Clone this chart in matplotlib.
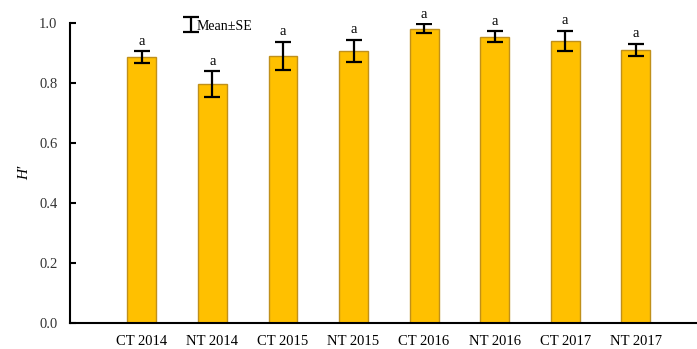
import matplotlib
matplotlib.use("Agg")
import matplotlib.pyplot as plt
import numpy as np

categories = ["CT 2014", "NT 2014", "CT 2015", "NT 2015", "CT 2016", "NT 2016", "CT 2017", "NT 2017"]
means = [0.887, 0.797, 0.891, 0.908, 0.981, 0.954, 0.941, 0.911]
se = [0.019, 0.042, 0.046, 0.037, 0.015, 0.018, 0.034, 0.020]
letters = ["a"] * 8
yticks = [0.0, 0.2, 0.4, 0.6, 0.8, 1.0]

plt.rcParams['font.family'] = ['Liberation Serif', 'DejaVu Serif']

fig = plt.figure(figsize=(6.97, 3.49), dpi=100)
ax = fig.add_axes([0.1004, 0.0745, 0.8996, 0.8595])

x = np.arange(len(categories))
ax.bar(x, means, width=0.41, color="#FFC000", edgecolor="#C0901A", linewidth=1.0, zorder=2)
ax.errorbar(x, means, yerr=se, fmt="none", ecolor="black", elinewidth=1.6, capsize=6, capthick=1.6, zorder=3)
for xi, m, s, l in zip(x, means, se, letters):
    ax.text(xi, m + s + 0.012, l, ha="center", va="bottom", fontsize=10.5)

ax.set_xlim(-1.02, 7.87)
ax.set_ylim(0, 1.0)
ax.set_xticks(x)
ax.set_xticklabels(categories, fontsize=10.5)
ax.set_yticks(yticks)
ax.set_yticklabels([f"{v:.1f}" for v in yticks], fontsize=10.5, color="#333333")
ax.tick_params(axis="both", direction="in", length=4, width=1.5)
ax.tick_params(axis="y", pad=9)
ax.tick_params(axis="x", pad=9)
for s in ["top", "right"]:
    ax.spines[s].set_visible(False)
for s in ["left", "bottom"]:
    ax.spines[s].set_linewidth(1.5)

ax.set_ylabel("H′", fontstyle="italic", fontsize=11)
ax.yaxis.set_label_coords(-0.062, 0.5)

# legend-like marker
ax.errorbar([0.69], [0.995], yerr=[0.024], fmt="none", ecolor="black", elinewidth=1.6, capsize=6, capthick=1.6, clip_on=False)
ax.text(0.78, 0.99, "Mean±SE", ha="left", va="center", fontsize=10)

fig.savefig("out.png", dpi=100)
